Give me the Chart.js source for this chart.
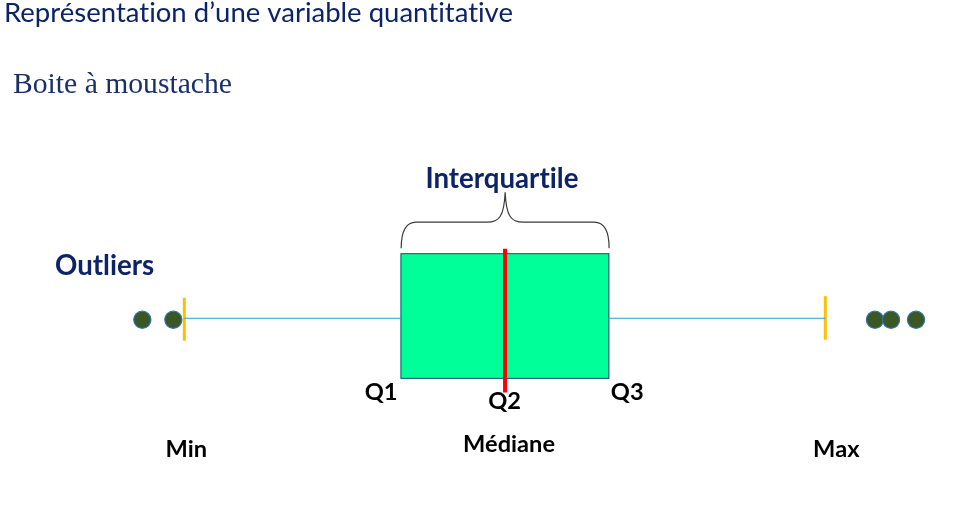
<!DOCTYPE html>
<html>
<head>
<meta charset="utf-8">
<script src="https://cdn.jsdelivr.net/npm/chart.js@4.4.1/dist/chart.umd.min.js"></script>
<style>
  html, body { margin: 0; padding: 0; background: #ffffff; }
  #wrap { width: 954px; height: 514px; position: relative; }
</style>
</head>
<body>
<div id="wrap"><canvas id="c"></canvas></div>
<script>
// ---- data (x values on an abstract 0..100 axis) ----
const categories = ['Min', 'Q1', 'Q2', 'Q3', 'Max'];
const fiveNumberSummary = [19.32, 41.98, 52.94, 63.87, 86.51];
const outliersLow = [14.92, 18.17];
const outliersHigh = [91.72, 93.40, 96.02];
const bottomLabels = ['Min', 'Médiane', 'Max'];
const titleText = 'Représentation d\u2019une variable quantitative';
const subtitleText = 'Boite à moustache';
const iqrLabel = 'Interquartile';
const outlierLabel = 'Outliers';

const [vMin, vQ1, vQ2, vQ3, vMax] = fiveNumberSummary;

const NAVY = '#0c2466';
const SANS = 'Lato, "Open Sans", sans-serif';

function fitSize(ctx, text, width, weight, family) {
  ctx.font = weight + ' 100px ' + family;
  return width / ctx.measureText(text).width * 100;
}

const boxPlugin = {
  id: 'boxPlugin',
  afterDatasetsDraw(chart) {
    const ctx = chart.ctx;
    const x = chart.scales.x, y = chart.scales.y;
    const px = v => x.getPixelForValue(v);
    const py = v => y.getPixelForValue(v);
    const xQ1 = px(vQ1), xQ2 = px(vQ2), xQ3 = px(vQ3);
    const yTop = py(0.515), yBot = py(-0.48);
    ctx.save();
    // box
    ctx.fillStyle = '#00ff99';
    ctx.fillRect(xQ1, yTop, xQ3 - xQ1, yBot - yTop);
    ctx.strokeStyle = '#2f4b7c';
    ctx.lineWidth = 1;
    ctx.strokeRect(xQ1 + 0.5, yTop + 0.5, xQ3 - xQ1 - 1, yBot - yTop - 1);
    // median
    ctx.strokeStyle = '#ff0000';
    ctx.lineWidth = 4;
    ctx.beginPath();
    ctx.moveTo(xQ2, py(0.55));
    ctx.lineTo(xQ2, py(-0.587));
    ctx.stroke();
    // brace
    const L = xQ1 + 0.7, R = xQ3 - 0.2, M = (L + R) / 2;
    const yb = yTop - 5, yh = yTop - 31, yt = yTop - 61;
    ctx.strokeStyle = '#3a3a3a';
    ctx.lineWidth = 1.2;
    ctx.beginPath();
    ctx.moveTo(L, yb);
    ctx.bezierCurveTo(L, yh + 10, L + 4, yh, L + 15, yh);
    ctx.lineTo(M - 18, yh);
    ctx.bezierCurveTo(M - 6, yh, M - 1, yh - 6, M, yt);
    ctx.bezierCurveTo(M + 1, yh - 6, M + 6, yh, M + 18, yh);
    ctx.lineTo(R - 15, yh);
    ctx.bezierCurveTo(R - 4, yh, R, yh + 10, R, yb);
    ctx.stroke();

    // texts
    ctx.textBaseline = 'alphabetic';
    try { ctx.letterSpacing = '0.01px'; } catch (e) {}
    // title
    let s = fitSize(ctx, titleText, 509, 'normal', SANS);
    ctx.font = 'normal ' + s + 'px ' + SANS;
    ctx.fillStyle = NAVY;
    ctx.textAlign = 'left';
    ctx.fillText(titleText, 4, 21.7);
    // subtitle (serif)
    s = fitSize(ctx, subtitleText, 219, 'normal', '"Liberation Serif", serif');
    ctx.font = 'normal ' + s + 'px "Liberation Serif", serif';
    ctx.fillStyle = '#1a2f6a';
    ctx.fillText(subtitleText, 13, 92.7);
    // Interquartile / Outliers
    const sb = fitSize(ctx, iqrLabel, 153, 'bold', SANS);
    ctx.font = 'bold ' + sb + 'px ' + SANS;
    ctx.fillStyle = NAVY;
    ctx.textAlign = 'center';
    ctx.fillText(iqrLabel, (xQ1 + xQ3) / 2 - 3, 188);
    ctx.textAlign = 'left';
    ctx.fillText(outlierLabel, 55, 275);
    // Q labels and bottom labels
    const sl = fitSize(ctx, bottomLabels[1], 92, 'bold', SANS);
    ctx.font = 'bold ' + sl + 'px ' + SANS;
    ctx.fillStyle = '#000000';
    ctx.textAlign = 'right';
    ctx.fillText(categories[1], xQ1 - 3, 399.5);
    ctx.textAlign = 'left';
    ctx.fillText(categories[3], xQ3 + 1.5, 399.5);
    ctx.textAlign = 'center';
    ctx.fillText(categories[2], xQ2 - 0.5, 409);
    ctx.fillText(bottomLabels[0], px(vMin) + 2, 457.3);
    ctx.fillText(bottomLabels[1], xQ2 + 4, 451.7);
    ctx.fillText(bottomLabels[2], px(vMax) + 11, 457.3);
    ctx.restore();
  }
};

const WHISKER = '#2a9fd6';
const TICK = '#ffc000';

new Chart(document.getElementById('c'), {
  type: 'scatter',
  data: {
    datasets: [
      { data: [{x: vMin, y: 0}, {x: vQ1, y: 0}], showLine: true, borderColor: WHISKER, borderWidth: 1, pointRadius: 0 },
      { data: [{x: vQ3, y: 0}, {x: vMax, y: 0}], showLine: true, borderColor: WHISKER, borderWidth: 1, pointRadius: 0 },
      { data: [{x: vMin, y: -0.178}, {x: vMin, y: 0.162}], showLine: true, borderColor: TICK, borderWidth: 3, pointRadius: 0 },
      { data: [{x: vMax, y: -0.17}, {x: vMax, y: 0.175}], showLine: true, borderColor: TICK, borderWidth: 3, pointRadius: 0 },
      { data: outliersLow.concat(outliersHigh).map(v => ({x: v, y: -0.012})),
        showLine: false, pointRadius: 8.6, backgroundColor: '#3a5724', borderColor: '#2e75b6', borderWidth: 1.2 }
    ]
  },
  options: {
    responsive: true,
    maintainAspectRatio: false,
    animation: false,
    events: [],
    layout: { padding: 0, autoPadding: false },
    scales: {
      x: { type: 'linear', min: 0, max: 100, display: false },
      y: { type: 'linear', min: -1.55, max: 2.52, display: false }
    },
    plugins: { legend: { display: false }, tooltip: { enabled: false }, title: { display: false } },
    datasets: { scatter: { clip: false } }
  },
  plugins: [boxPlugin]
});
</script>
</body>
</html>
